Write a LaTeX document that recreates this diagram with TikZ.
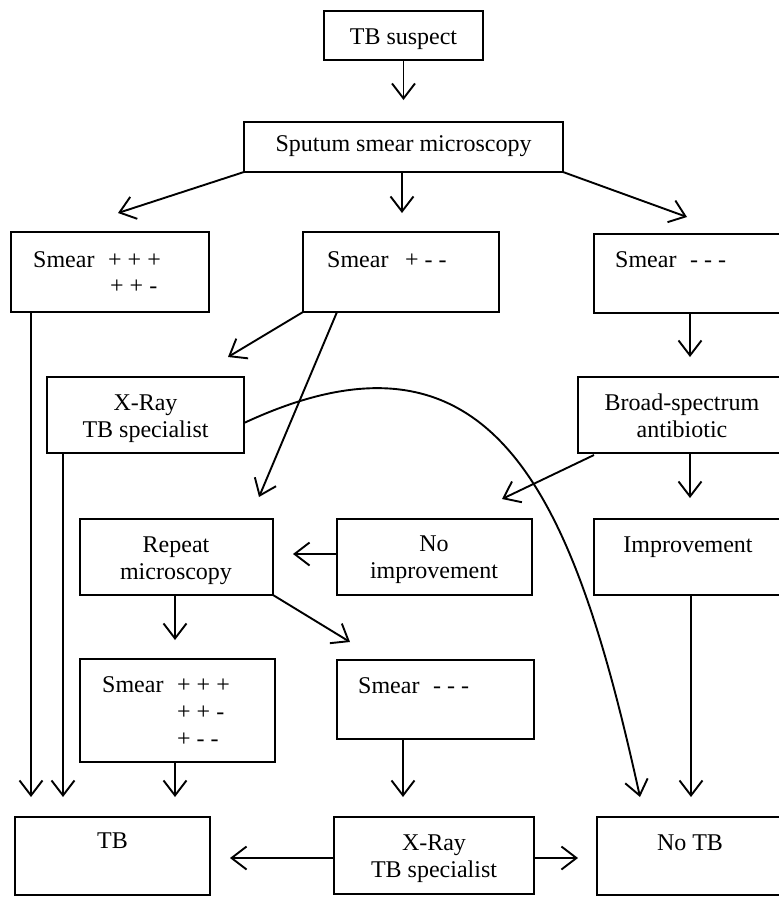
\documentclass[tikz,border=0pt]{standalone}
\usepackage{fontspec}
\setmainfont{Liberation Serif}
\usetikzlibrary{arrows.meta}
\begin{document}
\begin{tikzpicture}[x=1pt,y=-1pt,
  box/.style={draw, line width=2pt, inner sep=0pt, outer sep=0pt},
  txt/.style={font=\fontsize{24}{27}\selectfont, inner sep=0pt, anchor=base},
  txtl/.style={txt, anchor=base west},
  arr/.style={line width=1.9pt, -{Straight Barb[length=15pt,width=23pt,line width=1.9pt]}},
  ln/.style={line width=1.9pt}]
\clip (0,0) rectangle (779,898);
\fill[white] (0,0) rectangle (779,898);
% boxes
\node[box, minimum width=159pt, minimum height=49pt] (tbs)  at (403.5,35.5) {};
\node[box, minimum width=319pt, minimum height=50pt] (spu)  at (403.5,147) {};
\node[box, minimum width=198pt, minimum height=80pt] (smA)  at (110,272) {};
\node[box, minimum width=196pt, minimum height=80pt] (smB)  at (401,272) {};
\node[box, minimum width=192pt, minimum height=79pt] (smC)  at (690,273.5) {};
\node[box, minimum width=197pt, minimum height=76pt] (xr1)  at (145.5,415) {};
\node[box, minimum width=208pt, minimum height=76pt] (bsa)  at (682,415) {};
\node[box, minimum width=193pt, minimum height=76pt] (rep)  at (176.5,557) {};
\node[box, minimum width=195pt, minimum height=76pt] (noi)  at (434.5,557) {};
\node[box, minimum width=192pt, minimum height=76pt] (imp)  at (690,557) {};
\node[box, minimum width=195pt, minimum height=103pt] (smD) at (177.5,710.5) {};
\node[box, minimum width=197pt, minimum height=79pt] (smE)  at (435.5,699.5) {};
\node[box, minimum width=195pt, minimum height=78pt] (tb)   at (112.5,856) {};
\node[box, minimum width=200pt, minimum height=77pt] (xr2)  at (434,855.5) {};
\node[box, minimum width=189pt, minimum height=78pt] (notb) at (691.5,856) {};
% texts
\node[txt] (t1) at (403.5,44) {TB suspect};
\node[txt] (t2) at (403.5,151) {Sputum smear microscopy};
\node[txtl] (t3a) at (33,267) {Smear};
\node[txtl] (t3b) at (108,267) {+ + +};
\node[txtl] (t3c) at (110,293) {+ + -};
\node[txtl] (t4a) at (327,267) {Smear};
\node[txtl] (t4b) at (405,267) {+ - -};
\node[txtl] (t5a) at (615,267) {Smear};
\node[txtl] (t5b) at (690,267) {- - -};
\node[txt] (t6a) at (145.5,410) {X-Ray};
\node[txt] (t6b) at (145.5,437) {TB specialist};
\node[txt] (t7a) at (682,410) {Broad-spectrum};
\node[txt] (t7b) at (682,437) {antibiotic};
\node[txt] (t8a) at (176,552) {Repeat};
\node[txt] (t8b) at (176,579) {microscopy};
\node[txt] (t9a) at (434,551) {No};
\node[txt] (t9b) at (434,578) {improvement};
\node[txt] (t10) at (688,552) {Improvement};
\node[txtl] (t11a) at (102,692) {Smear};
\node[txtl] (t11b) at (177,692) {+ + +};
\node[txtl] (t11c) at (177,719) {+ + -};
\node[txtl] (t11d) at (177,746) {+ - -};
\node[txtl] (t12a) at (358,693) {Smear};
\node[txtl] (t12b) at (433,693) {- - -};
\node[txt] (t13) at (112.5,848) {TB};
\node[txt] (t14a) at (434,850) {X-Ray};
\node[txt] (t14b) at (434,877) {TB specialist};
\node[txt] (t15) at (690,850) {No TB};
% arrow tip coordinates
\coordinate (p1) at (403.5,100);
\coordinate (p2) at (118,213);
\coordinate (p3) at (402,213);
\coordinate (p4) at (687,217);
\coordinate (p5) at (228,357);
\coordinate (p6) at (259,497);
\coordinate (p7) at (690,357);
\coordinate (p8) at (31,797);
\coordinate (p9) at (63,797);
\coordinate (p10) at (640,797);
\coordinate (p11) at (502,499);
\coordinate (p12) at (690,498);
\coordinate (p13) at (293,554);
\coordinate (p14) at (175,640);
\coordinate (p15) at (350,642);
\coordinate (p16) at (175,797);
\coordinate (p17) at (403,797);
\coordinate (p18) at (691,797);
\coordinate (p19) at (230,858);
\coordinate (p20) at (578,858);
% connectors
\draw[arr] (tbs.south) -- (p1);
\draw[arr] (spu.south west) -- (p2);
\draw[arr] (spu.south -| p3) -- (p3);
\draw[arr] (spu.south east) -- (p4);
\draw[arr] (smB.south west) -- (p5);
\draw[arr] (smB.south west) ++(34,0) -- (p6);
\draw[arr] (smC.south -| p7) -- (p7);
\draw[arr] (smA.south -| p8) -- (p8);
\draw[arr] (xr1.south -| p9) -- (p9);
\draw[arr] (xr1.east) ++(0,8) .. controls (495,306) and (574,497) .. (p10);
\draw[arr] (bsa.south west) ++(16,2) -- (p11);
\draw[arr] (bsa.south -| p12) -- (p12);
\draw[arr] (noi.west |- p13) -- (p13);
\draw[arr] (rep.south -| p14) -- (p14);
\draw[arr] (rep.south east) -- (p15);
\draw[arr] (smD.south -| p16) -- (p16);
\draw[arr] (smE.south -| p17) -- (p17);
\draw[arr] (imp.south -| p18) -- (p18);
\draw[arr] (xr2.west |- p19) -- (p19);
\draw[arr] (xr2.east |- p20) -- (p20);
\end{tikzpicture}
\end{document}
